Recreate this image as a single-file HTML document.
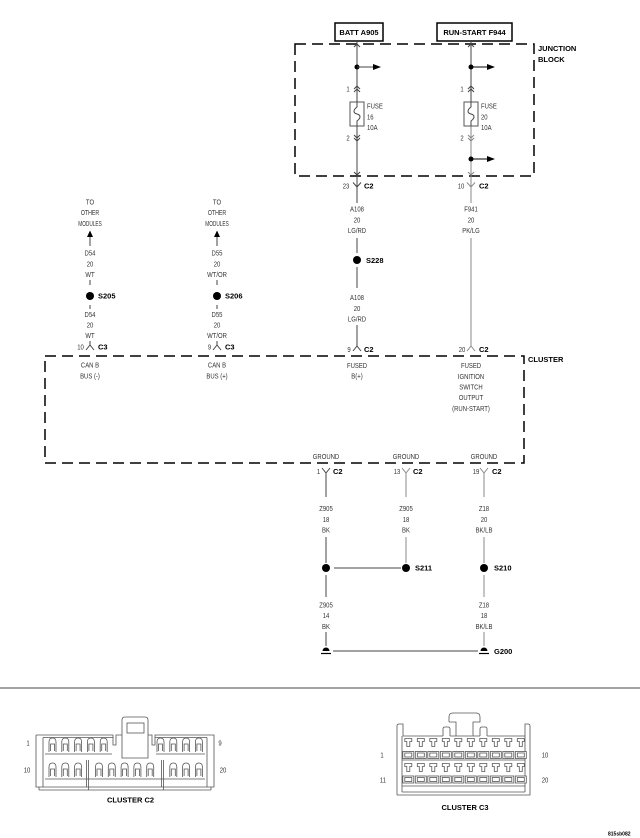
<!DOCTYPE html>
<html>
<head>
<meta charset="utf-8">
<style>
  html,body{margin:0;padding:0;background:#fff;}
  svg{display:block;}
  .r{font-family:"Liberation Sans",sans-serif;font-size:7px;fill:#333;text-anchor:middle;}
  .rs{font-family:"Liberation Sans",sans-serif;font-size:7px;fill:#333;text-anchor:start;}
  .b{font-family:"Liberation Sans",sans-serif;font-size:7.5px;font-weight:bold;fill:#000;text-anchor:start;}
  .bm{font-family:"Liberation Sans",sans-serif;font-size:7.5px;font-weight:bold;fill:#000;text-anchor:middle;}
  .w{stroke:#444;stroke-width:1;fill:none;}
  .wg{stroke:#888;stroke-width:1;fill:none;}
  .d{stroke:#000;stroke-width:1.5;fill:none;stroke-dasharray:11 6;}
  .c{stroke:#555;stroke-width:0.8;fill:none;}
  .cf{stroke:#555;stroke-width:0.8;fill:#fff;}
</style>
</head>
<body>
<svg width="640" height="838" viewBox="0 0 640 838" xmlns="http://www.w3.org/2000/svg">
<rect width="640" height="838" fill="#fff"/>

<!-- ===== Junction block ===== -->
<rect x="335" y="23" width="48" height="18" fill="#fff" stroke="#000" stroke-width="1.5"/>
<text class="bm" x="359" y="35">BATT A905</text>
<rect x="437" y="23" width="75" height="18" fill="#fff" stroke="#000" stroke-width="1.5"/>
<text class="bm" x="474.5" y="35">RUN-START F944</text>

<rect class="d" x="295" y="44" width="239" height="132"/>
<text class="b" x="538" y="51">JUNCTION</text>
<text class="b" x="538" y="62">BLOCK</text>

<!-- left wire -->
<path class="w" d="M357 41 V102 M357 126 V203"/>
<path class="w" d="M354 47 L357 44 L360 47"/>
<circle cx="357" cy="67" r="2.5" fill="#000"/>
<path class="w" d="M357 67 H374" stroke="#000"/>
<path d="M373 64 L381 67 L373 70 Z" fill="#000"/>
<path class="w" d="M354 89 L357 86 L360 89 M354 92 L357 89 L360 92"/>
<rect x="350" y="102" width="14" height="24" fill="#fff" stroke="#555" stroke-width="1"/>
<path class="w" d="M357 102 V107 C353 110 353 113 357 114 C361 115 361 118 357 121 V126"/>
<path class="w" d="M354 135 L357 138 L360 135 M354 138 L357 141 L360 138"/>
<path class="w" d="M354 172 L357 175 L360 172"/>
<path class="w" d="M353 182.5 L357 187 L361 182.5"/>
<text class="r" transform="matrix(.85 0 0 1 348 91.5)">1</text>
<text class="rs" transform="matrix(.85 0 0 1 367 108.5)">FUSE</text>
<text class="rs" transform="matrix(.85 0 0 1 367 119.5)">16</text>
<text class="rs" transform="matrix(.85 0 0 1 367 130)">10A</text>
<text class="r" transform="matrix(.85 0 0 1 348 140.5)">2</text>
<text class="r" transform="matrix(.85 0 0 1 346 188.5)">23</text>
<text class="b" x="364" y="188.5">C2</text>

<!-- right wire -->
<path class="w" d="M471 41 V102"/>
<path class="wg" d="M471 126 V203"/>
<path class="w" d="M468 47 L471 44 L474 47"/>
<circle cx="471" cy="67" r="2.5" fill="#000"/>
<path d="M471 67 H488" stroke="#000" stroke-width="1"/>
<path d="M487 64 L495 67 L487 70 Z" fill="#000"/>
<path class="w" d="M468 89 L471 86 L474 89 M468 92 L471 89 L474 92"/>
<rect x="464" y="102" width="14" height="24" fill="#fff" stroke="#555" stroke-width="1"/>
<path class="w" d="M471 102 V107 C467 110 467 113 471 114 C475 115 475 118 471 121 V126"/>
<path class="wg" d="M468 135 L471 138 L474 135 M468 138 L471 141 L474 138"/>
<circle cx="471" cy="159" r="2.5" fill="#000"/>
<path d="M471 159 H488" stroke="#000" stroke-width="1"/>
<path d="M487 156 L495 159 L487 162 Z" fill="#000"/>
<path class="wg" d="M468 172 L471 175 L474 172"/>
<path class="wg" d="M467 182.5 L471 187 L475 182.5"/>
<text class="r" transform="matrix(.85 0 0 1 462 91.5)">1</text>
<text class="rs" transform="matrix(.85 0 0 1 481 108.5)">FUSE</text>
<text class="rs" transform="matrix(.85 0 0 1 481 119.5)">20</text>
<text class="rs" transform="matrix(.85 0 0 1 481 130)">10A</text>
<text class="r" transform="matrix(.85 0 0 1 462 140.5)">2</text>
<text class="r" transform="matrix(.85 0 0 1 461 188.5)">10</text>
<text class="b" x="479" y="188.5">C2</text>

<!-- ===== middle wires ===== -->
<text class="r" transform="matrix(.85 0 0 1 357 211.5)">A108</text>
<text class="r" transform="matrix(.85 0 0 1 357 222.5)">20</text>
<text class="r" transform="matrix(.85 0 0 1 357 233)">LG/RD</text>
<path class="w" d="M357 238 V253"/>
<circle cx="357" cy="260" r="4" fill="#000"/>
<text class="b" x="366" y="263">S228</text>
<path class="w" d="M357 267 V288"/>
<text class="r" transform="matrix(.85 0 0 1 357 300)">A108</text>
<text class="r" transform="matrix(.85 0 0 1 357 311)">20</text>
<text class="r" transform="matrix(.85 0 0 1 357 321.5)">LG/RD</text>
<path class="w" d="M357 325 V346 M353 351 L357 346 L361 351"/>
<text class="r" transform="matrix(.85 0 0 1 349 352)">9</text>
<text class="b" x="364" y="352">C2</text>

<text class="r" transform="matrix(.85 0 0 1 471 211.5)">F941</text>
<text class="r" transform="matrix(.85 0 0 1 471 222.5)">20</text>
<text class="r" transform="matrix(.85 0 0 1 471 233)">PK/LG</text>
<path class="wg" d="M471 238 V346 M467 351 L471 346 L475 351"/>
<text class="r" transform="matrix(.85 0 0 1 462 352)">20</text>
<text class="b" x="479" y="352">C2</text>

<!-- ===== left columns ===== -->
<text class="r" transform="matrix(.85 0 0 1 90 204.5)">TO</text>
<text class="r" transform="matrix(.75 0 0 1 90 215)">OTHER</text>
<text class="r" transform="matrix(.68 0 0 1 90 226)">MODULES</text>
<path d="M87 237 L90 230.5 L93 237 Z" fill="#000"/>
<path class="w" d="M90 237 V246"/>
<text class="r" transform="matrix(.85 0 0 1 90 255.5)">D54</text>
<text class="r" transform="matrix(.85 0 0 1 90 266.5)">20</text>
<text class="r" transform="matrix(.85 0 0 1 90 277)">WT</text>
<path class="w" d="M90 280 V285 M90 305 V309"/>
<circle cx="90" cy="296" r="4" fill="#000"/>
<text class="b" x="98" y="298.5">S205</text>
<text class="r" transform="matrix(.85 0 0 1 90 317)">D54</text>
<text class="r" transform="matrix(.85 0 0 1 90 327.5)">20</text>
<text class="r" transform="matrix(.85 0 0 1 90 338)">WT</text>
<path class="w" d="M90 341 V345 M86 350 L90 345 L94 350"/>
<text class="r" transform="matrix(.85 0 0 1 80.5 349.5)">10</text>
<text class="b" x="98" y="349.5">C3</text>

<text class="r" transform="matrix(.85 0 0 1 217 204.5)">TO</text>
<text class="r" transform="matrix(.75 0 0 1 217 215)">OTHER</text>
<text class="r" transform="matrix(.68 0 0 1 217 226)">MODULES</text>
<path d="M214 237 L217 230.5 L220 237 Z" fill="#000"/>
<path class="w" d="M217 237 V246"/>
<text class="r" transform="matrix(.85 0 0 1 217 255.5)">D55</text>
<text class="r" transform="matrix(.85 0 0 1 217 266.5)">20</text>
<text class="r" transform="matrix(.85 0 0 1 217 277)">WT/OR</text>
<path class="w" d="M217 280 V285 M217 305 V309"/>
<circle cx="217" cy="296" r="4" fill="#000"/>
<text class="b" x="225" y="298.5">S206</text>
<text class="r" transform="matrix(.85 0 0 1 217 317)">D55</text>
<text class="r" transform="matrix(.85 0 0 1 217 327.5)">20</text>
<text class="r" transform="matrix(.85 0 0 1 217 338)">WT/OR</text>
<path class="w" d="M217 341 V345 M213 350 L217 345 L221 350"/>
<text class="r" transform="matrix(.85 0 0 1 209.5 349.5)">9</text>
<text class="b" x="225" y="349.5">C3</text>

<!-- ===== Cluster box ===== -->
<rect class="d" x="45" y="356" width="479" height="107"/>
<text class="b" x="528" y="362">CLUSTER</text>
<text class="r" transform="matrix(.85 0 0 1 90 367.5)">CAN B</text>
<text class="r" transform="matrix(.85 0 0 1 90 378.5)">BUS (-)</text>
<text class="r" transform="matrix(.85 0 0 1 217 367.5)">CAN B</text>
<text class="r" transform="matrix(.85 0 0 1 217 378.5)">BUS (+)</text>
<text class="r" transform="matrix(.85 0 0 1 357 368)">FUSED</text>
<text class="r" transform="matrix(.85 0 0 1 357 378.5)">B(+)</text>
<text class="r" transform="matrix(.85 0 0 1 471 368)">FUSED</text>
<text class="r" transform="matrix(.85 0 0 1 471 379)">IGNITION</text>
<text class="r" transform="matrix(.85 0 0 1 471 389.5)">SWITCH</text>
<text class="r" transform="matrix(.85 0 0 1 471 400)">OUTPUT</text>
<text class="r" transform="matrix(.85 0 0 1 471 411)">(RUN-START)</text>
<text class="r" transform="matrix(.85 0 0 1 326 459)">GROUND</text>
<text class="r" transform="matrix(.85 0 0 1 406 459)">GROUND</text>
<text class="r" transform="matrix(.85 0 0 1 484 459)">GROUND</text>

<!-- ===== ground wires ===== -->
<path class="w" d="M322 468 L326 473 L330 468 M326 473 V497"/>
<text class="r" transform="matrix(.85 0 0 1 318.5 474)">1</text>
<text class="b" x="333" y="474">C2</text>
<path class="wg" d="M402 468 L406 473 L410 468 M406 473 V497"/>
<text class="r" transform="matrix(.85 0 0 1 397 474)">13</text>
<text class="b" x="413" y="474">C2</text>
<path class="wg" d="M480 468 L484 473 L488 468 M484 473 V497"/>
<text class="r" transform="matrix(.85 0 0 1 476 474)">19</text>
<text class="b" x="492" y="474">C2</text>

<text class="r" transform="matrix(.85 0 0 1 326 511)">Z905</text>
<text class="r" transform="matrix(.85 0 0 1 326 522)">18</text>
<text class="r" transform="matrix(.85 0 0 1 326 532.5)">BK</text>
<text class="r" transform="matrix(.85 0 0 1 406 511)">Z905</text>
<text class="r" transform="matrix(.85 0 0 1 406 522)">18</text>
<text class="r" transform="matrix(.85 0 0 1 406 532.5)">BK</text>
<text class="r" transform="matrix(.85 0 0 1 484 511)">Z18</text>
<text class="r" transform="matrix(.85 0 0 1 484 522)">20</text>
<text class="r" transform="matrix(.85 0 0 1 484 532.5)">BK/LB</text>

<path class="w" d="M326 537 V563"/>
<path class="wg" d="M406 537 V563 M484 537 V563"/>
<circle cx="326" cy="568" r="4" fill="#000"/>
<circle cx="406" cy="568" r="4" fill="#000"/>
<circle cx="484" cy="568" r="4" fill="#000"/>
<path class="w" d="M334 568 H401"/>
<text class="b" x="415" y="570.5">S211</text>
<text class="b" x="494" y="570.5">S210</text>

<path class="w" d="M326 575 V597"/>
<path class="wg" d="M484 575 V597"/>
<text class="r" transform="matrix(.85 0 0 1 326 607.5)">Z905</text>
<text class="r" transform="matrix(.85 0 0 1 326 618)">14</text>
<text class="r" transform="matrix(.85 0 0 1 326 629)">BK</text>
<text class="r" transform="matrix(.85 0 0 1 484 607.5)">Z18</text>
<text class="r" transform="matrix(.85 0 0 1 484 618)">18</text>
<text class="r" transform="matrix(.85 0 0 1 484 629)">BK/LB</text>
<path class="w" d="M326 632 V646"/>
<path class="wg" d="M484 632 V646"/>
<path d="M322.5 651 A3.5 3.5 0 0 1 329.5 651 Z" fill="#000"/>
<path d="M321 653.5 H331" stroke="#000" stroke-width="1.2"/>
<path d="M480.5 651 A3.5 3.5 0 0 1 487.5 651 Z" fill="#000"/>
<path d="M479 653.5 H489" stroke="#000" stroke-width="1.2"/>
<path class="w" d="M333 651 H478"/>
<text class="b" x="494" y="654">G200</text>

<!-- divider -->
<path d="M0 688 H640" stroke="#444" stroke-width="1"/>

<!-- ===== Cluster C2 connector ===== -->
<g>
  <path class="c" d="M36 735 H113 V745 H116 V735 H122"/>
  <path class="c" d="M148 735 H152 V745 H155 V735 H214 V787 H36 V735"/>
  <path class="c" d="M43 737.5 V787 M207 737.5 V787 M43 737.5 H113 M155 737.5 H207"/>
  <path class="c" d="M39 790 H211 M39 787 V790 M211 787 V790 M88.5 787 V790 M163.5 787 V790"/>
  <path class="cf" d="M122 758 V720 Q122 717 125 717 H145 Q148 717 148 720 V758 Z" stroke="#333" stroke-width="1"/>
  <rect class="c" x="127" y="723" width="17" height="10"/>
  <path class="c" d="M88.5 760 V787 M86.5 760 V787 M163.5 760 V787 M161.5 760 V787"/>
  <path class="c" d="M45 754 H112 M156 754 H205 M45 779 H205"/>
  <!-- row 1 terminals -->
  <g class="c">
    <path d="M49 752 V742 Q49 738 52.5 738 Q56 738 56 742 V752 M50.5 751 V744 H54.5 V751"/>
    <path d="M61.8 752 V742 Q61.8 738 65.3 738 Q68.8 738 68.8 742 V752 M63.3 751 V744 H67.3 V751"/>
    <path d="M74.6 752 V742 Q74.6 738 78.1 738 Q81.6 738 81.6 742 V752 M76.1 751 V744 H80.1 V751"/>
    <path d="M87.4 752 V742 Q87.4 738 90.9 738 Q94.4 738 94.4 742 V752 M88.9 751 V744 H92.9 V751"/>
    <path d="M100.2 752 V742 Q100.2 738 103.7 738 Q107.2 738 107.2 742 V752 M101.7 751 V744 H105.7 V751"/>
    <path d="M157 752 V742 Q157 738 160.5 738 Q164 738 164 742 V752 M158.5 751 V744 H162.5 V751"/>
    <path d="M169.8 752 V742 Q169.8 738 173.3 738 Q176.8 738 176.8 742 V752 M171.3 751 V744 H175.3 V751"/>
    <path d="M182.6 752 V742 Q182.6 738 186.1 738 Q189.6 738 189.6 742 V752 M184.1 751 V744 H188.1 V751"/>
    <path d="M195.4 752 V742 Q195.4 738 198.9 738 Q202.4 738 202.4 742 V752 M196.9 751 V744 H200.9 V751"/>
  </g>
  <!-- row 2 terminals -->
  <g class="c">
    <path d="M49 777 V767 Q49 763 52.5 763 Q56 763 56 767 V777 M50.5 776 V769 H54.5 V776"/>
    <path d="M61.8 777 V767 Q61.8 763 65.3 763 Q68.8 763 68.8 767 V777 M63.3 776 V769 H67.3 V776"/>
    <path d="M74.6 777 V767 Q74.6 763 78.1 763 Q81.6 763 81.6 767 V777 M76.1 776 V769 H80.1 V776"/>
    <path d="M95.5 777 V767 Q95.5 763 99 763 Q102.5 763 102.5 767 V777 M97 776 V769 H101 V776"/>
    <path d="M108.3 777 V767 Q108.3 763 111.8 763 Q115.3 763 115.3 767 V777 M109.8 776 V769 H113.8 V776"/>
    <path d="M121.1 777 V767 Q121.1 763 124.6 763 Q128.1 763 128.1 767 V777 M122.6 776 V769 H126.6 V776"/>
    <path d="M133.9 777 V767 Q133.9 763 137.4 763 Q140.9 763 140.9 767 V777 M135.4 776 V769 H139.4 V776"/>
    <path d="M146.7 777 V767 Q146.7 763 150.2 763 Q153.7 763 153.7 767 V777 M148.2 776 V769 H152.2 V776"/>
    <path d="M169.8 777 V767 Q169.8 763 173.3 763 Q176.8 763 176.8 767 V777 M171.3 776 V769 H175.3 V776"/>
    <path d="M182.6 777 V767 Q182.6 763 186.1 763 Q189.6 763 189.6 767 V777 M184.1 776 V769 H188.1 V776"/>
    <path d="M195.4 777 V767 Q195.4 763 198.9 763 Q202.4 763 202.4 767 V777 M196.9 776 V769 H200.9 V776"/>
  </g>
  <text class="r" transform="matrix(.85 0 0 1 28 745.5)">1</text>
  <text class="r" transform="matrix(.85 0 0 1 27 772.5)">10</text>
  <text class="r" transform="matrix(.85 0 0 1 220 745.5)">9</text>
  <text class="r" transform="matrix(.85 0 0 1 223 772.5)">20</text>
  <text class="bm" x="130.5" y="802.5">CLUSTER C2</text>
</g>

<!-- ===== Cluster C3 connector ===== -->
<g>
  <path class="c" d="M397 795 V726 Q397 724 399 724 H403 V736 H443"/>
  <path class="c" d="M487 736 H525 V724 H528 Q530 724 530 726 V795 H397"/>
  <path class="c" d="M443 736 V729 Q443 727 445 727 H448 Q450 727 450 729 V736 M480 736 V729 Q480 727 482 727 H485 Q487 727 487 729 V736"/>
  <path class="c" d="M450 736 H480"/>
  <path class="cf" d="M449 722 V717 Q449 713 453 713 H476 Q480 713 480 717 V722 H473 V736 M456 736 V722 H449" stroke="#444" stroke-width="1"/>
  <path class="c" d="M402 736 V792 M525 736 V792 M402 792 H525 M402 760 H525 M402 786 H525"/>
  <g class="c">
    <path d="M404.8 738.5 H411.8 V741.5 H409.8 V746.5 H406.8 V741.5 H404.8 Z M417.3 738.5 H424.3 V741.5 H422.3 V746.5 H419.3 V741.5 H417.3 Z M429.8 738.5 H436.8 V741.5 H434.8 V746.5 H431.8 V741.5 H429.8 Z M442.3 738.5 H449.3 V741.5 H447.3 V746.5 H444.3 V741.5 H442.3 Z M454.8 738.5 H461.8 V741.5 H459.8 V746.5 H456.8 V741.5 H454.8 Z M467.3 738.5 H474.3 V741.5 H472.3 V746.5 H469.3 V741.5 H467.3 Z M479.8 738.5 H486.8 V741.5 H484.8 V746.5 H481.8 V741.5 H479.8 Z M492.3 738.5 H499.3 V741.5 H497.3 V746.5 H494.3 V741.5 H492.3 Z M504.8 738.5 H511.8 V741.5 H509.8 V746.5 H506.8 V741.5 H504.8 Z M517.3 738.5 H524.3 V741.5 H522.3 V746.5 H519.3 V741.5 H517.3 Z"/>
    <path d="M404.8 763.5 H411.8 V766.5 H409.8 V771.5 H406.8 V766.5 H404.8 Z M417.3 763.5 H424.3 V766.5 H422.3 V771.5 H419.3 V766.5 H417.3 Z M429.8 763.5 H436.8 V766.5 H434.8 V771.5 H431.8 V766.5 H429.8 Z M442.3 763.5 H449.3 V766.5 H447.3 V771.5 H444.3 V766.5 H442.3 Z M454.8 763.5 H461.8 V766.5 H459.8 V771.5 H456.8 V766.5 H454.8 Z M467.3 763.5 H474.3 V766.5 H472.3 V771.5 H469.3 V766.5 H467.3 Z M479.8 763.5 H486.8 V766.5 H484.8 V771.5 H481.8 V766.5 H479.8 Z M492.3 763.5 H499.3 V766.5 H497.3 V771.5 H494.3 V766.5 H492.3 Z M504.8 763.5 H511.8 V766.5 H509.8 V771.5 H506.8 V766.5 H504.8 Z M517.3 763.5 H524.3 V766.5 H522.3 V771.5 H519.3 V766.5 H517.3 Z"/>
  </g>
  <g stroke="#555" stroke-width="0.8" fill="#fff">
    <rect x="402.8" y="751.5" width="11" height="7"/><rect x="415.3" y="751.5" width="11" height="7"/><rect x="427.8" y="751.5" width="11" height="7"/><rect x="440.3" y="751.5" width="11" height="7"/><rect x="452.8" y="751.5" width="11" height="7"/><rect x="465.3" y="751.5" width="11" height="7"/><rect x="477.8" y="751.5" width="11" height="7"/><rect x="490.3" y="751.5" width="11" height="7"/><rect x="502.8" y="751.5" width="11" height="7"/><rect x="515.3" y="751.5" width="11" height="7"/>
    <rect x="404.8" y="753" width="7" height="4"/><rect x="417.3" y="753" width="7" height="4"/><rect x="429.8" y="753" width="7" height="4"/><rect x="442.3" y="753" width="7" height="4"/><rect x="454.8" y="753" width="7" height="4"/><rect x="467.3" y="753" width="7" height="4"/><rect x="479.8" y="753" width="7" height="4"/><rect x="492.3" y="753" width="7" height="4"/><rect x="504.8" y="753" width="7" height="4"/><rect x="517.3" y="753" width="7" height="4"/>
    <rect x="402.8" y="776" width="11" height="7"/><rect x="415.3" y="776" width="11" height="7"/><rect x="427.8" y="776" width="11" height="7"/><rect x="440.3" y="776" width="11" height="7"/><rect x="452.8" y="776" width="11" height="7"/><rect x="465.3" y="776" width="11" height="7"/><rect x="477.8" y="776" width="11" height="7"/><rect x="490.3" y="776" width="11" height="7"/><rect x="502.8" y="776" width="11" height="7"/><rect x="515.3" y="776" width="11" height="7"/>
    <rect x="404.8" y="777.5" width="7" height="4"/><rect x="417.3" y="777.5" width="7" height="4"/><rect x="429.8" y="777.5" width="7" height="4"/><rect x="442.3" y="777.5" width="7" height="4"/><rect x="454.8" y="777.5" width="7" height="4"/><rect x="467.3" y="777.5" width="7" height="4"/><rect x="479.8" y="777.5" width="7" height="4"/><rect x="492.3" y="777.5" width="7" height="4"/><rect x="504.8" y="777.5" width="7" height="4"/><rect x="517.3" y="777.5" width="7" height="4"/>
  </g>
  <text class="r" transform="matrix(.85 0 0 1 382 757.5)">1</text>
  <text class="r" transform="matrix(.85 0 0 1 545 757.5)">10</text>
  <text class="r" transform="matrix(.85 0 0 1 383 782.5)">11</text>
  <text class="r" transform="matrix(.85 0 0 1 545 782.5)">20</text>
  <text class="bm" x="465" y="810">CLUSTER C3</text>
</g>

<text x="608" y="835.5" style="font-family:'Liberation Sans',sans-serif;font-size:5px;font-weight:bold;fill:#000;">815sb082</text>
</svg>
</body>
</html>
